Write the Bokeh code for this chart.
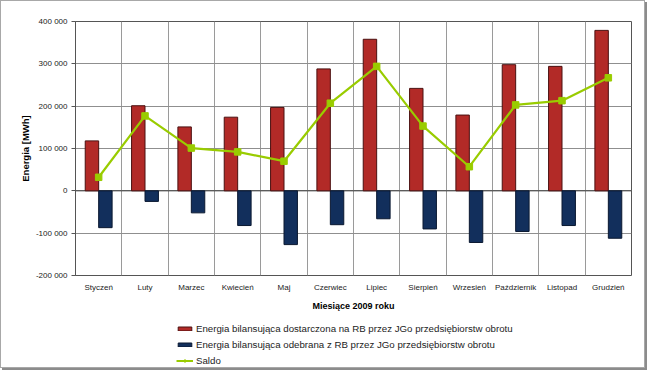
from bokeh.plotting import figure
from bokeh.layouts import column
from bokeh.models import (Range1d, FixedTicker, Legend, LegendItem, Span, ColumnDataSource)
from bokeh.embed import file_html
from bokeh.resources import INLINE

months = ["Styczeń", "Luty", "Marzec", "Kwiecień", "Maj", "Czerwiec", "Lipiec",
          "Sierpień", "Wrzesień", "Październik", "Listopad", "Grudzień"]
dostarczona = [118000, 201000, 151000, 174000, 197000, 288000, 358000,
               242000, 179000, 298000, 294000, 379000]
odebrana = [-87000, -25000, -52000, -82000, -127000, -80000, -66000,
            -90000, -122000, -96000, -82000, -112000]
saldo = [32000, 177000, 101000, 92000, 70000, 207000, 294000,
         153000, 57000, 203000, 213000, 267000]
y_ticks = [-200000, -100000, 0, 100000, 200000, 300000, 400000]

label_red = "Energia bilansująca dostarczona na RB przez JGo przedsiębiorstw obrotu"
label_blue = "Energia bilansująca odebrana z RB przez JGo przedsiębiorstw obrotu"
label_saldo = "Saldo"

RED = "#B22A27"
BLUE = "#122F5C"
GREEN = "#99CC00"
FONT = "Liberation Sans"

n = len(months)
xpos = list(range(1, n + 1))
bw = 0.29
src = ColumnDataSource(dict(
    x=xpos,
    xr=[x - bw / 2 for x in xpos],
    xb=[x + bw / 2 for x in xpos],
    red=dostarczona, blue=odebrana, saldo=saldo))

p = figure(width=643, height=313, output_backend="svg", toolbar_location=None,
           x_range=Range1d(0.5, n + 0.5), y_range=Range1d(y_ticks[0], y_ticks[-1]),
           min_border_left=74, min_border_top=20, min_border_right=13, min_border_bottom=39)
p.outline_line_color = "#555555"
p.outline_line_width = 1

# grids
p.xgrid.ticker = FixedTicker(ticks=[i + 0.5 for i in range(0, n + 1)])
p.xgrid.grid_line_color = "#9a9a9a"
p.xgrid.grid_line_width = 1
p.ygrid.ticker = FixedTicker(ticks=y_ticks)
p.ygrid.grid_line_color = "#8f8f8f"

zero = Span(location=0, dimension="width", line_color="#444444", line_width=1, level="underlay")
p.add_layout(zero)

p.vbar(x="xr", top="red", bottom=0, width=bw, source=src,
       fill_color=RED, line_color="#4a1010", line_width=1)
p.vbar(x="xb", top="blue", bottom=0, width=bw, source=src,
       fill_color=BLUE, line_color="#0a1830", line_width=1)
p.line(x="x", y="saldo", source=src, line_color=GREEN, line_width=2.2)
p.scatter(x="x", y="saldo", source=src, marker="square", size=6.5,
          fill_color=GREEN, line_color=GREEN)

# axes
xa = p.xaxis[0]
xa.ticker = FixedTicker(ticks=xpos)
xa.major_label_overrides = {x: m for x, m in zip(xpos, months)}
xa.major_tick_out = 0
xa.major_tick_in = 0
xa.minor_tick_out = 0
xa.minor_tick_in = 0
xa.axis_line_color = None
xa.major_label_standoff = 7
xa.major_label_text_font = FONT
xa.major_label_text_font_size = "8px"
xa.major_label_text_color = "#222222"
xa.axis_label = "Miesiące 2009 roku"
xa.axis_label_text_font = FONT
xa.axis_label_text_font_size = "9px"
xa.axis_label_text_font_style = "bold"
xa.axis_label_text_color = "#000000"
xa.axis_label_standoff = 6

ya = p.yaxis[0]
ya.ticker = FixedTicker(ticks=y_ticks)
ya.major_label_overrides = {v: f"{v:,}".replace(",", " ") for v in y_ticks}
ya.major_tick_out = 4
ya.major_tick_in = 0
ya.minor_tick_out = 0
ya.minor_tick_in = 0
ya.axis_line_color = "#555555"
ya.major_tick_line_color = "#555555"
ya.major_label_standoff = 4
ya.major_label_text_font = FONT
ya.major_label_text_font_size = "8px"
ya.major_label_text_color = "#222222"
ya.axis_label = "Energia [MWh]"
ya.axis_label_text_font = FONT
ya.axis_label_text_font_size = "9.5px"
ya.axis_label_text_font_style = "bold"
ya.axis_label_text_color = "#000000"
ya.axis_label_standoff = 2

# legend strip below the chart (same data, with view ranges far from the data)
lf = figure(width=643, height=53, output_backend="svg", toolbar_location=None,
            x_range=Range1d(100, 101), y_range=Range1d(1e7, 1e7 + 1),
            x_axis_location=None, y_axis_location=None,
            min_border=0)
lf.outline_line_color = None
lf.grid.visible = False
l_red = lf.vbar(x="xr", top="red", bottom=0, width=bw, source=src,
                fill_color=RED, line_color="#4a1010")
l_blue = lf.vbar(x="xb", top="blue", bottom=0, width=bw, source=src,
                 fill_color=BLUE, line_color="#0a1830")
l_line = lf.line(x="x", y="saldo", source=src, line_color=GREEN, line_width=2)
l_pts = lf.scatter(x="x", y="saldo", source=src, marker="square", size=6,
                   fill_color=GREEN, line_color=GREEN)

legend = Legend(items=[
    LegendItem(label=label_red, renderers=[l_red]),
    LegendItem(label=label_blue, renderers=[l_blue]),
    LegendItem(label=label_saldo, renderers=[l_line, l_pts]),
], location=(101, 0), orientation="vertical",
    glyph_width=17, glyph_height=5, label_height=13, spacing=3,
    padding=0, margin=0, label_standoff=3,
    label_text_font=FONT, label_text_font_size="9.7px", label_text_color="#222222",
    border_line_color=None, background_fill_alpha=0)
lf.add_layout(legend, "center")

layout = column(p, lf, spacing=0)
layout.styles = {"border": "1px solid #a8a8a8", "box-shadow": "2px 2px 0 #8c8c8c",
                 "background-color": "white"}

open("out.html", "w").write(file_html(layout, INLINE))
